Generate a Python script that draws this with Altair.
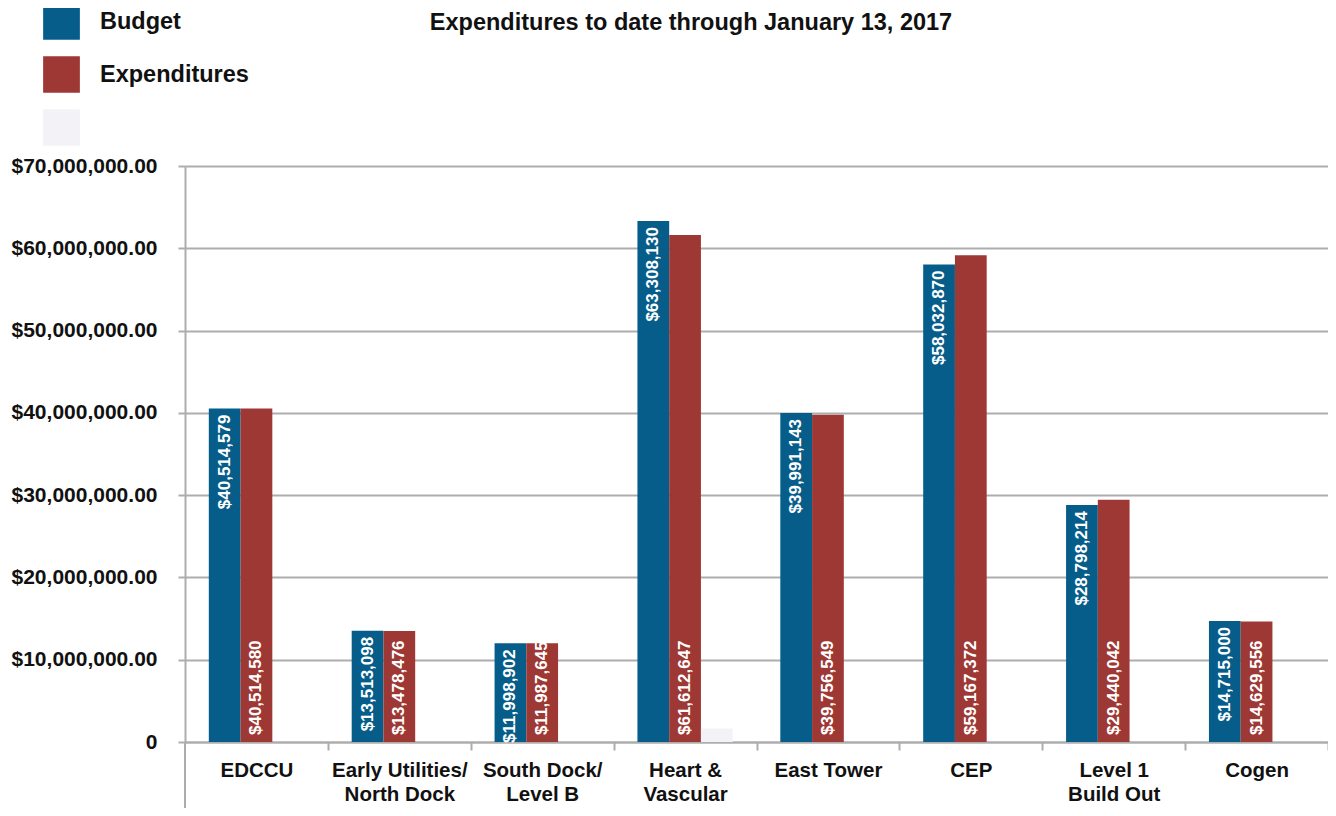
import altair as alt
import pandas as pd

categories = ["EDCCU", "Early Utilities/|North Dock", "South Dock/|Level B", "Heart &|Vascular",
              "East Tower", "CEP", "Level 1|Build Out", "Cogen"]
budget = [40514579, 13513098, 11998902, 63308130, 39991143, 58032870, 28798214, 14715000]
expenditures = [40514580, 13478476, 11987645, 61612647, 39756549, 59167372, 29440042, 14629556]
other = [0, 0, 0, 1650000, 0, 0, 0, 0]
series = ["Budget", "Expenditures", "Other"]
colors = ["#075d8a", "#9e3834", "#f3f2f6"]
y_ticks = [0, 10000000, 20000000, 30000000, 40000000, 50000000, 60000000, 70000000]

rows = []
for i, c in enumerate(categories):
    rows.append({"cat": c, "series": "Budget", "value": budget[i], "zero": 0})
    rows.append({"cat": c, "series": "Expenditures", "value": expenditures[i], "zero": 0})
    rows.append({"cat": c, "series": "Other", "value": other[i], "zero": 0})
df = pd.DataFrame(rows)

W, H = 1143, 576
STEP = W / len(categories)
FONT = "Liberation Sans"
GRID = "#adadad"

x_enc = alt.X("cat:N", sort=categories,
              scale=alt.Scale(paddingInner=0, paddingOuter=0),
              axis=alt.Axis(title=None, labelExpr="split(datum.label, '|')", labelAngle=0,
                            labelFont=FONT, labelFontSize=20.5, labelFontWeight="bold",
                            labelColor="#111111", labelLineHeight=24, labelPadding=10,
                            labelBaseline="top",
                            tickOffset=STEP / 2, labelOffset=-STEP / 2,
                            tickSize=8, tickColor=GRID, tickWidth=2,
                            domainColor=GRID, domainWidth=2, grid=False))
xo_enc = alt.XOffset("series:N", sort=series,
                     scale=alt.Scale(domain=series, paddingInner=0, paddingOuter=0.75))
y_scale = alt.Scale(domain=[0, 70000000], nice=False)

bars = alt.Chart(df).mark_bar().encode(
    x=x_enc,
    xOffset=xo_enc,
    y=alt.Y("value:Q", scale=y_scale,
            axis=alt.Axis(title=None, values=y_ticks,
                          labelExpr="datum.value == 0 ? '0' : '$' + format(datum.value, ',.2f')",
                          labelFont=FONT, labelFontSize=21, labelFontWeight="bold",
                          labelColor="#111111", labelPadding=21,
                          tickSize=7, tickColor=GRID, tickWidth=2,
                          domainColor=GRID, domainWidth=2,
                          grid=True, gridColor=GRID, gridWidth=2)),
    color=alt.Color("series:N", sort=series,
                    scale=alt.Scale(domain=series, range=colors),
                    legend=alt.Legend(title=None, orient="none", legendX=-142, legendY=-163,
                                      symbolType="square", symbolSize=1350,
                                      symbolStrokeWidth=0, symbolOpacity=1,
                                      labelFont=FONT, labelFontSize=23.5, labelFontWeight="bold",
                                      labelColor="#111111", labelOffset=20,
                                      rowPadding=16, padding=0,
                                      labelExpr="datum.label == 'Other' ? '' : datum.label")),
)

budget_text = alt.Chart(df).transform_filter(alt.datum.series == "Budget").mark_text(
    angle=270, align="right", baseline="middle", dx=-6,
    font=FONT, fontSize=17, fontWeight="bold", color="white"
).encode(
    x=alt.X("cat:N", sort=categories),
    xOffset=alt.XOffset("series:N", sort=series),
    y=alt.Y("value:Q"),
    text=alt.Text("value:Q", format="$,d"),
)

exp_text = alt.Chart(df).transform_filter(alt.datum.series == "Expenditures").mark_text(
    angle=270, align="left", baseline="middle", dx=7,
    font=FONT, fontSize=17, fontWeight="bold", color="white"
).encode(
    x=alt.X("cat:N", sort=categories),
    xOffset=alt.XOffset("series:N", sort=series),
    y=alt.Y("zero:Q"),
    text=alt.Text("value:Q", format="$,d"),
)

axis_ext = alt.Chart(pd.DataFrame({"v": [0]})).mark_rule(color=GRID, strokeWidth=2).encode(
    x=alt.value(0), y=alt.value(H), y2=alt.value(H + 66)
)

chart = alt.layer(bars, budget_text, exp_text, axis_ext).properties(
    width=W, height=H,
    title=alt.TitleParams("Expenditures to date through January 13, 2017",
                          font=FONT, fontSize=23.5, fontWeight="bold", color="#111111",
                          anchor="middle", dx=691 - (185 + W / 2), offset=-31),
    autosize=alt.AutoSizeParams(type="none"),
    padding={"left": 177, "top": 158, "right": 0, "bottom": 66},
).configure_view(stroke=None)

chart.save("out.html", embed_options={"renderer": "svg", "actions": False})
